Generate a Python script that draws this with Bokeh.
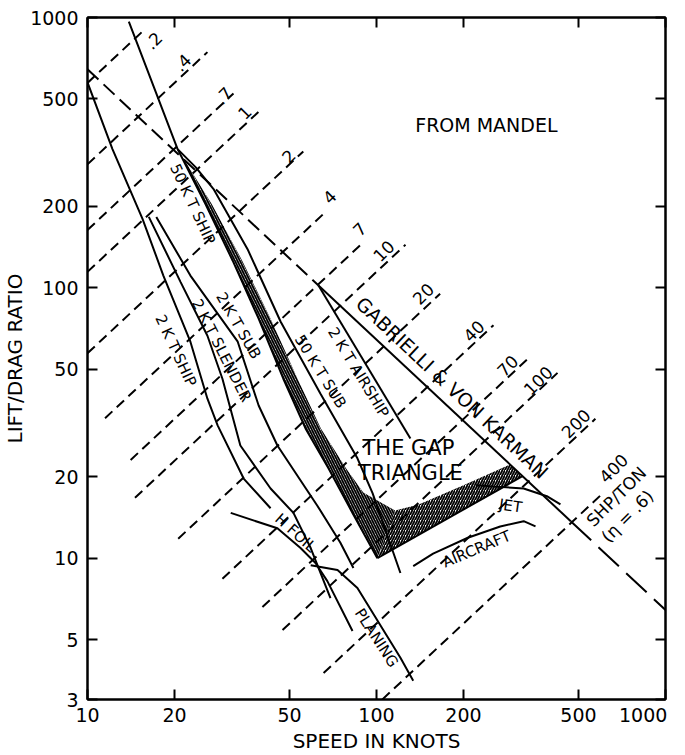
import numpy as np
from bokeh.plotting import figure
from bokeh.models import FixedTicker, LogAxis, NumeralTickFormatter, Range1d, CustomLabelingPolicy
from bokeh.embed import file_html
from bokeh.resources import INLINE
from bokeh.core.properties import value

FONT = "DejaVu Sans"

# ---------------- data (speed in knots, lift/drag ratio) ----------------
x_ticks = [10, 20, 50, 100, 200, 500, 1000]
y_ticks = [3, 5, 10, 20, 50, 100, 200, 500, 1000]

# constant specific power lines  L/D = K * V / (SHP/ton),  K = 6.874/eta, eta = .6
eta = 0.6
K = 6.874 / eta
shp_values = [0.2, 0.4, 0.7, 1, 2, 4, 7, 10, 20, 40, 70, 100, 200, 400]
shp_labels = [".2", ".4", ".7", "1", "2", "4", "7", "10", "20", "40", "70", "100", "200", "400"]
shp_v_start = [10, 10, 10, 10, 10, 11.5, 14.1, 14.6, 20.6, 29.3, 40.3, 47.3, 65.6, 104.8]
shp_v_end = [15.5, 26, 32, 40.4, 55.8, 65.6, 89, 126, 166, 254, 340, 423, 572, 596]
shp_label_v = [16.9, 21.3, 29.5, 34.9, 49.6, 68.7, 87.3, 105.8, 145, 217, 284, 362, 489, 660]
shp_label_ld = [822, 682, 515, 446, 307, 217, 165, 137, 95.1, 69.3, 51.5, 45.4, 31.5, 21.5]

# Gabrielli - von Karman line (break points: dashed / solid / dashed)
gvk_v = [10, 63, 470, 1000]
gvk_ld = [643, 102, 13.7, 6.43]

ship2_v = [10, 12.2, 15.5, 18.3, 22.7, 26.0, 28.2, 34.7, 43.0]
ship2_ld = [575, 326, 180, 111, 63.2, 38.9, 31.0, 19.7, 15.3]

slender2_v = [16.3, 21.0, 26.0, 29.3, 33.8, 43.0, 51.6, 59.2, 69.3]
slender2_ld = [183, 105, 66.5, 46.1, 26.1, 18.1, 14.7, 10.9, 7.12]

sub2_v = [17.3, 22.7, 33.1, 39.1, 45.4, 62.5, 75.0, 83.2]
sub2_ld = [183, 111, 63.2, 36.7, 26.1, 15.6, 11.4, 9.19]

ship50_v = [13.9, 20.5, 25.6, 31.8, 39.1, 47.6, 56.8, 68.2, 82.6, 100.7]
ship50_ld = [966, 326, 204, 126, 76.9, 46.1, 30.2, 21.5, 14.7, 10.0]

sub50_v = [20.5, 23.7, 27.3, 35.8, 46.6, 64.0, 85.9, 96.9, 121]
sub50_ld = [326, 279, 232, 139, 74.9, 40.6, 23.4, 17.4, 8.81]

airship2_v = [63.0, 131]
airship2_ld = [102, 27.7]

hfoil_v = [31.3, 45.4, 54.6, 61.5, 67.6, 82.6]
hfoil_ld = [14.7, 12.9, 10.9, 9.6, 8.22, 5.38]

planing_v = [59.2, 73.3, 85.9, 103, 121, 134]
planing_ld = [9.42, 9.04, 7.75, 5.66, 4.28, 3.52]

aircraft_v = [134, 157, 207, 268, 323, 355]
aircraft_ld = [9.34, 10.4, 11.9, 13.1, 13.7, 13.1]

jet_v = [220, 323, 391, 433]
jet_ld = [18.6, 18.1, 16.9, 15.8]

gap_bottom_v = [100.7, 320]
gap_bottom_ld = [10.0, 20.1]

hatch_left_v = [20.5, 25.6, 31.8, 39.1, 47.6, 56.8, 68.2, 82.6, 100.7, 116, 90, 78.4, 64.2, 53.3, 43.0, 34.3, 26.9]
hatch_left_ld = [326, 204, 126, 76.9, 46.1, 30.2, 21.5, 14.7, 10.0, 15.0, 17.5, 21.5, 30.2, 46.1, 76.9, 126, 204]
hatch_bottom_v = [100.7, 320, 290, 200, 140, 116]
hatch_bottom_ld = [10.0, 20.1, 22.2, 18.6, 15.8, 15.0]

curve_labels = ["50 K T SHIP", "2 K T SUB", "2 K.T SLENDER", "2 K T SHIP", "50 K T SUB",
                "2 K T AIRSHIP", "H FOIL", "PLANING", "AIRCRAFT", "JET"]
curve_label_v = [23.1, 33.3, 29.1, 20.2, 64.0, 86.6, 52.5, 100, 222, 291]
curve_label_ld = [204, 72.4, 58.6, 58.6, 49.0, 48.6, 12.4, 5.07, 10.8, 15.6]
curve_label_angle = [-65, -60, -63, -65, -58, -58.5, -42, -57, 23, -8]

# ---------------- figure ----------------
p = figure(width=685, height=755, x_axis_type="log", y_axis_type="log",
           x_range=Range1d(10, 1000), y_range=Range1d(3, 1000),
           output_backend="svg", toolbar_location=None,
           min_border_left=87, min_border_right=20, min_border_top=17, min_border_bottom=54)
p.grid.visible = False
p.outline_line_color = "black"
p.outline_line_width = 2
p.background_fill_color = "white"
p.border_fill_color = "white"

def style_axis(ax, labels=True):
    ax.major_tick_in = 10
    ax.major_tick_out = 0
    ax.minor_tick_line_color = None
    ax.axis_line_width = 2
    ax.major_tick_line_width = 2
    ax.axis_line_color = "black"
    ax.major_tick_line_color = "black"
    ax.major_label_text_font = FONT
    ax.major_label_text_color = "black"
    ax.major_label_text_font_size = "19px"
    if not labels:
        ax.major_label_text_font_size = "1px"
        ax.major_label_standoff = 0
        ax.major_label_policy = CustomLabelingPolicy(code="for (const i of indices) { indices.unset(i) }")

p.xaxis.ticker = FixedTicker(ticks=x_ticks)
p.yaxis.ticker = FixedTicker(ticks=y_ticks)
p.xaxis.formatter = NumeralTickFormatter(format="0")
p.yaxis.formatter = NumeralTickFormatter(format="0")
# the last x label sits left of its tick in the reference
p.xaxis.major_label_overrides = {1000: "1000" + "\u00a0" * 3}
for ax in p.xaxis + p.yaxis:
    style_axis(ax)
p.xaxis.major_label_standoff = 4
p.yaxis.major_label_standoff = 9
p.xaxis.axis_label = "SPEED IN KNOTS"
p.yaxis.axis_label = "LIFT/DRAG RATIO"
for ax in p.xaxis + p.yaxis:
    ax.axis_label_text_font = FONT
    ax.axis_label_text_font_size = "20px"
    ax.axis_label_text_font_style = "normal"
    ax.axis_label_text_color = "black"
    ax.axis_label_standoff = 0

top = LogAxis(ticker=FixedTicker(ticks=x_ticks))
style_axis(top, labels=False)
p.add_layout(top, "above")
right = LogAxis(ticker=FixedTicker(ticks=y_ticks))
style_axis(right, labels=False)
p.add_layout(right, "right")

# hatched band of the gap triangle
p.patch(hatch_left_v, hatch_left_ld, fill_alpha=0, line_color=None,
        hatch_pattern="left_diagonal_line", hatch_color="black", hatch_scale=5, hatch_weight=1.8)
p.patch(hatch_bottom_v, hatch_bottom_ld, fill_alpha=0, line_color=None,
        hatch_pattern="right_diagonal_line", hatch_color="black", hatch_scale=5, hatch_weight=1.8)

# specific power lines
for P, v0, v1 in zip(shp_values, shp_v_start, shp_v_end):
    vv = np.array([v0, v1])
    p.line(vv, K * vv / P, line_color="black", line_width=2, line_dash="10 6")

p.text(x=shp_label_v, y=shp_label_ld, text=shp_labels, angle=45, angle_units="deg",
       text_align="center", text_baseline="middle", text_font=value(FONT),
       text_font_size="17px", text_color="black")

# Gabrielli - von Karman
p.line(gvk_v[0:2], gvk_ld[0:2], line_color="black", line_width=2, line_dash="15 7")
p.line(gvk_v[1:3], gvk_ld[1:3], line_color="black", line_width=2)
p.line(gvk_v[2:4], gvk_ld[2:4], line_color="black", line_width=2, line_dash="28 10")

for vs, ls in [(ship2_v, ship2_ld), (slender2_v, slender2_ld), (sub2_v, sub2_ld),
               (ship50_v, ship50_ld), (sub50_v, sub50_ld), (airship2_v, airship2_ld),
               (hfoil_v, hfoil_ld), (planing_v, planing_ld), (aircraft_v, aircraft_ld),
               (jet_v, jet_ld), (gap_bottom_v, gap_bottom_ld)]:
    p.line(vs, ls, line_color="black", line_width=2)

p.text(x=curve_label_v, y=curve_label_ld, text=curve_labels, angle=curve_label_angle,
       angle_units="deg", text_align="center", text_baseline="middle",
       text_font=value(FONT), text_font_size="15px", text_color="black")

p.text(x=[183], y=[42.7], text=["GABRIELLI & VON KARMAN"], angle=-43.2, angle_units="deg",
       text_align="center", text_baseline="middle", text_font=value(FONT),
       text_font_size="19px", text_color="black")
p.text(x=[129, 131], y=[25.5, 20.6], text=["THE GAP", "TRIANGLE"],
       text_align="center", text_baseline="middle", text_font=value(FONT),
       text_font_size="21px", text_color="black")
p.text(x=[240], y=[399], text=["FROM MANDEL"], text_align="center", text_baseline="middle",
       text_font=value(FONT), text_font_size="19px", text_color="black")
p.text(x=[676, 738], y=[16.9, 14.3], text=["SHP/TON", "(\u03b7 = .6)"], angle=45, angle_units="deg",
       text_align="center", text_baseline="middle", text_font=value(FONT),
       text_font_size="17px", text_color="black")

open("out.html", "w").write(file_html(p, INLINE))
